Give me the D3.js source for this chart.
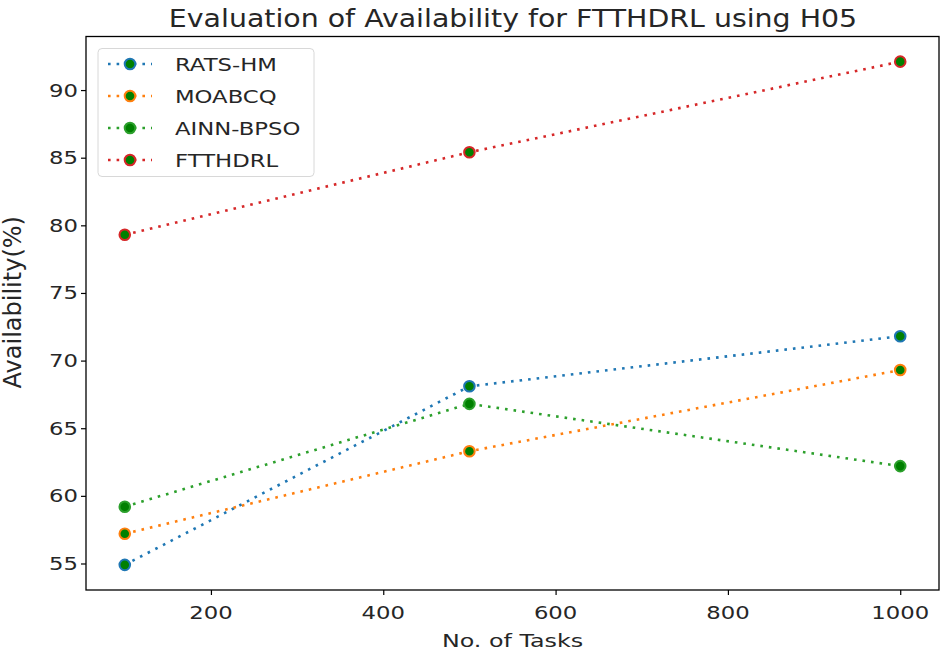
<!DOCTYPE html>
<html><head><meta charset="utf-8">
<script src="https://cdn.jsdelivr.net/npm/d3@7"></script>
<style>body{margin:0;background:#fff}svg{display:block}text{font-family:"DejaVu Sans",sans-serif;fill:#262626}</style>
</head><body><svg id="c" width="944" height="653"></svg>
<script>
const tasks = [100, 500, 1000];
const seriesNames = ["RATS-HM", "MOABCQ", "AINN-BPSO", "FTTHDRL"];
const ratsHM = [54.9, 68.1, 71.8];
const moabcq = [57.2, 63.3, 69.3];
const ainnBpso = [59.2, 66.8, 62.2];
const ftthdrl = [79.3, 85.4, 92.1];
const xTicks = [200, 400, 600, 800, 1000];
const yTicks = [55, 60, 65, 70, 75, 80, 85, 90];
const colors = ["#1f77b4", "#ff7f0e", "#2ca02c", "#d62728"];
const faceColor = "#008000";
const allSeries = [ratsHM, moabcq, ainnBpso, ftthdrl];

const svg = d3.select("#c");
const L = 86, R = 939, T = 36.5, B = 590;
const xmin = d3.min(tasks), xmax = d3.max(tasks), xm = (xmax - xmin) * 0.05;
const all = allSeries.flat();
const ymin = d3.min(all), ymax = d3.max(all), ym = (ymax - ymin) * 0.05;
const x = d3.scaleLinear().domain([xmin - xm, xmax + xm]).range([L, R]);
const y = d3.scaleLinear().domain([ymin - ym, ymax + ym]).range([B, T]);

function stretchedText(g, tx, ty, txt, size, anchor, sx) {
  return g.append("text").attr("transform", `translate(${tx},${ty}) scale(${sx || 1.3},1)`)
    .attr("text-anchor", anchor).style("font-size", size + "px").text(txt);
}

// axes
const xAxis = svg.append("g").attr("transform", `translate(0,${B})`)
  .call(d3.axisBottom(x).tickValues(xTicks).tickSize(5).tickSizeOuter(0).tickFormat(""));
const yAxis = svg.append("g").attr("transform", `translate(${L},0)`)
  .call(d3.axisLeft(y).tickValues(yTicks).tickSize(5).tickSizeOuter(0).tickFormat(""));
[xAxis, yAxis].forEach(a => { a.selectAll("path").remove(); a.selectAll("line").attr("stroke", "#000").attr("stroke-width", 1.2); });
xTicks.forEach(v => stretchedText(svg, x(v), 619, String(v), 17.5, "middle"));
yTicks.forEach(v => stretchedText(svg, L - 8, y(v) + 6.5, String(v), 17.5, "end"));

svg.append("rect").attr("x", L).attr("y", T).attr("width", R - L).attr("height", B - T)
  .attr("fill", "none").attr("stroke", "#000").attr("stroke-width", 1.3);

// title & labels
stretchedText(svg, (L + R) / 2 + 0.5, 27, "Evaluation of Availability for FTTHDRL using H05", 24.5, "middle", 1.16);
stretchedText(svg, (L + R) / 2, 647, "No. of Tasks", 17.5, "middle", 1.36);
svg.append("text").attr("transform", `translate(21,${(T + B) / 2 - 11}) rotate(-90)`)
  .attr("text-anchor", "middle").style("font-size", "24px").text("Availability(%)");

// series
const line = d3.line().x((d, i) => x(tasks[i])).y(d => y(d));
allSeries.forEach((s, k) => {
  svg.append("path").datum(s).attr("d", line).attr("fill", "none")
    .attr("stroke", colors[k]).attr("stroke-width", 2.6).attr("stroke-dasharray", "2.6 6");
  svg.append("g").selectAll("circle").data(s).join("circle")
    .attr("cx", (d, i) => x(tasks[i])).attr("cy", d => y(d)).attr("r", 5.3)
    .attr("fill", faceColor).attr("stroke", colors[k]).attr("stroke-width", 2);
});

// legend
const lg = svg.append("g");
lg.append("rect").attr("x", 98).attr("y", 48.5).attr("width", 216).attr("height", 128).attr("rx", 4)
  .attr("fill", "#fff").attr("fill-opacity", 0.8).attr("stroke", "#d8d8d8").attr("stroke-width", 1);
seriesNames.forEach((n, k) => {
  const ly = 64 + k * 32;
  lg.append("line").attr("x1", 108).attr("x2", 152).attr("y1", ly).attr("y2", ly)
    .attr("stroke", colors[k]).attr("stroke-width", 2.6).attr("stroke-dasharray", "2.6 6");
  lg.append("circle").attr("cx", 130).attr("cy", ly).attr("r", 5.3)
    .attr("fill", faceColor).attr("stroke", colors[k]).attr("stroke-width", 2);
  stretchedText(lg, 175, ly + 6.5, n, 17.5, "start");
});
</script></body></html>
